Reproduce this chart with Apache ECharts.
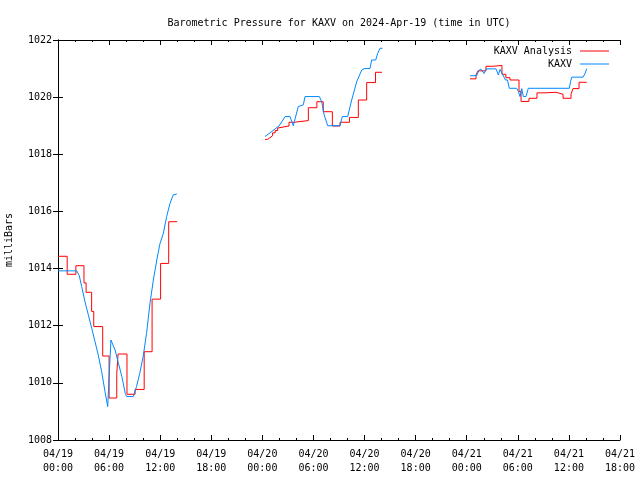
<!DOCTYPE html>
<html>
<head>
<meta charset="utf-8">
<script src="https://cdn.jsdelivr.net/npm/echarts@6/dist/echarts.min.js"></script>
<style>
html,body{margin:0;padding:0;background:#fff;}
#chart{width:640px;height:480px;}
</style>
</head>
<body>
<div id="chart"></div>
<script>
// hours since 2024-04-19 00:00 UTC, pressure in mb
var analysisSeg1 = [[0,1014.43],[1.08,1013.8],[2.1,1014.1],[3.05,1013.5],[3.3,1013.17],[3.95,1012.5],[4.2,1011.97],[5.25,1010.94],[6.0,1009.47],[6.9,1010.3],[7.05,1011.01],[8.1,1009.6],[9.05,1009.77],[10.12,1011.09],[11.05,1012.93],[12.05,1014.18],[13.0,1015.64],[14.0,1015.64]];
var analysisSeg2 = [[24.3,1018.52],[24.6,1018.58],[24.9,1018.65],[25.2,1018.75],[25.5,1018.83],[25.8,1018.92],[26.0,1018.99],[27.13,1019.12],[27.7,1019.18],[29.4,1019.63],[30.4,1019.84],[31.15,1019.49],[32.22,1018.99],[33.12,1019.12],[34.23,1019.29],[35.27,1019.9],[36.25,1020.51],[37.29,1020.87],[38.05,1020.87]];
var analysisSeg3 = [[48.38,1020.64],[49.09,1020.78],[49.32,1020.92],[50.26,1021.08],[51.09,1021.11],[52.14,1020.8],[52.6,1020.68],[53.08,1020.6],[54.14,1020.2],[54.38,1019.85],[55.31,1019.96],[56.25,1020.15],[57.19,1020.17],[58.49,1020.1],[59.31,1019.96],[60.25,1020.1],[60.48,1020.3],[61.19,1020.52],[62.09,1020.52]];

var obsSeg1 = [[0,1013.92],[2.2,1013.92],[2.5,1013.75],[2.78,1013.37],[3.17,1012.84],[3.56,1012.38],[3.96,1011.91],[4.35,1011.44],[4.73,1010.97],[5.13,1010.39],[5.52,1009.69],[5.84,1009.17],[6.0,1010.2],[6.22,1011.5],[6.7,1011.15],[7.1,1010.68],[7.5,1010.22],[7.9,1009.63],[8.07,1009.52],[8.84,1009.52],[9.22,1009.87],[9.6,1010.33],[10.0,1010.92],[10.4,1011.73],[10.8,1012.78],[11.2,1013.6],[11.6,1014.3],[11.98,1014.88],[12.37,1015.23],[12.76,1015.82],[13.15,1016.28],[13.54,1016.58],[13.95,1016.61]];
var obsSeg2 = [[24.31,1018.62],[25.95,1018.99],[26.42,1019.2],[26.66,1019.32],[27.25,1019.32],[27.63,1019.0],[28.22,1019.67],[28.42,1019.73],[28.81,1019.73],[29.01,1020.02],[30.69,1020.02],[30.97,1019.84],[31.24,1019.4],[31.67,1019.0],[33.12,1019.0],[33.39,1019.32],[34.02,1019.32],[34.49,1019.9],[35.08,1020.54],[35.67,1020.95],[35.97,1021.0],[36.64,1021.0],[36.84,1021.3],[37.31,1021.3],[37.54,1021.53],[37.81,1021.71],[38.09,1021.71]];
var obsSeg3 = [[48.38,1020.75],[49.17,1020.75],[49.36,1020.89],[49.62,1020.99],[49.79,1020.99],[50.03,1020.83],[50.3,1020.99],[51.44,1020.99],[51.71,1020.78],[51.91,1020.97],[52.14,1020.97],[52.38,1020.7],[52.55,1020.6],[52.79,1020.6],[53.0,1020.31],[53.87,1020.31],[54.06,1020.2],[54.26,1020.02],[54.46,1020.3],[54.65,1020.02],[54.96,1020.02],[55.23,1020.31],[60.05,1020.31],[60.19,1020.54],[60.33,1020.7],[61.66,1020.7],[61.9,1020.83],[62.09,1021.0]];

var xTickLabels = ['04/19\n00:00','04/19\n06:00','04/19\n12:00','04/19\n18:00','04/20\n00:00','04/20\n06:00','04/20\n12:00','04/20\n18:00','04/21\n00:00','04/21\n06:00','04/21\n12:00','04/21\n18:00'];
var yTickLabels = ['1008','1010','1012','1014','1016','1018','1020','1022'];
var seriesNames = ['KAXV Analysis','KAXV'];
var titleText = 'Barometric Pressure for KAXV on 2024-Apr-19 (time in UTC)';
var yAxisTitle = 'milliBars';

// value held until the next reading (gnuplot "steps")
function stepify(seg){
  var out = [];
  for (var i = 0; i < seg.length; i++){
    out.push(seg[i]);
    if (i < seg.length - 1) out.push([seg[i+1][0], seg[i][1]]);
  }
  return out;
}
function joinSegs(segs){
  var out = [];
  segs.forEach(function(s, i){
    if (i > 0) out.push([s[0][0] - 0.01, null]);
    s.forEach(function(p){ out.push(p); });
  });
  return out;
}

var FONT = 'DejaVu Sans Mono';
var chart = echarts.init(document.getElementById('chart'), null, {renderer:'canvas'});
var axisCommon = {
  axisLine:{show:true, lineStyle:{color:'#000', width:1}},
  splitLine:{show:false}
};
chart.setOption({
  animation:false,
  backgroundColor:'#fff',
  title:{text:titleText, left:334, textAlign:'center', top:13, textStyle:{fontFamily:FONT, fontSize:10, fontWeight:'normal', color:'#000'}},
  legend:{
    orient:'vertical', right:26, top:41, align:'right', itemGap:3,
    itemWidth:29, itemHeight:1, icon:'rect',
    formatter:function(n){ return n.padStart(13, ' '); },
    textStyle:{fontFamily:FONT, fontSize:10, color:'#000', padding:[0,3,0,0]},
    data:seriesNames
  },
  grid:{left:58, right:20, top:40, bottom:40, containLabel:false, outerBoundsMode:'none'},
  xAxis:[
    Object.assign({type:'value', min:0, max:66, interval:6, position:'bottom',
      axisTick:{show:true, inside:true, length:5, lineStyle:{color:'#000'}},
      minorTick:{show:true, splitNumber:3, length:2, lineStyle:{color:'#000'}},
      axisLabel:{fontFamily:FONT, fontSize:10, color:'#000', margin:7, lineHeight:14,
        formatter:function(v){ return xTickLabels[Math.round(v/6)]; }}
    }, axisCommon),
    Object.assign({type:'value', min:0, max:66, interval:6, position:'top',
      axisTick:{show:true, inside:true, length:5, lineStyle:{color:'#000'}},
      minorTick:{show:true, splitNumber:3, length:2, lineStyle:{color:'#000'}},
      axisLabel:{show:false}
    }, axisCommon)
  ],
  yAxis:[
    Object.assign({type:'value', min:1008, max:1022, interval:2, position:'left',
      name:yAxisTitle, nameLocation:'middle', nameRotate:90, nameGap:44,
      nameTextStyle:{fontFamily:FONT, fontSize:10, color:'#000'},
      axisTick:{show:true, inside:true, length:5, lineStyle:{color:'#000'}},
      axisLabel:{fontFamily:FONT, fontSize:10, color:'#000', margin:6,
        formatter:function(v){ return yTickLabels[Math.round((v-1008)/2)]; }}
    }, axisCommon),
    Object.assign({type:'value', min:1008, max:1022, interval:2, position:'right',
      axisTick:{show:true, inside:true, length:5, lineStyle:{color:'#000'}},
      axisLabel:{show:false}
    }, axisCommon)
  ],
  series:[
    {name:seriesNames[0], type:'line', xAxisIndex:0, yAxisIndex:0,
     data:joinSegs([stepify(analysisSeg1), stepify(analysisSeg2), stepify(analysisSeg3)]),
     showSymbol:false, symbol:'none', connectNulls:false,
     itemStyle:{color:'#ff0000'}, lineStyle:{color:'#ff0000', width:1}},
    {name:seriesNames[1], type:'line', xAxisIndex:0, yAxisIndex:0,
     data:joinSegs([obsSeg1, obsSeg2, obsSeg3]),
     showSymbol:false, symbol:'none', connectNulls:false,
     itemStyle:{color:'#0088ff'}, lineStyle:{color:'#0088ff', width:1}}
  ]
});
</script>
</body>
</html>
